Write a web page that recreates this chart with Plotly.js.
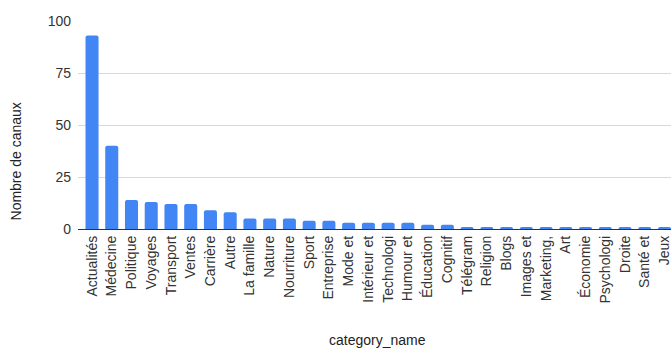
<!DOCTYPE html>
<html>
<head>
<meta charset="utf-8">
<script src="https://cdn.plot.ly/plotly-3.0.1.min.js"></script>
<style>
  html, body { margin: 0; padding: 0; background: #fff; }
  #chart { width: 671px; height: 349px; }
</style>
</head>
<body>
<div id="chart"></div>
<script>
// Channel counts per category
const categories = [
  "Actualités", "Médecine", "Politique", "Voyages", "Transport", "Ventes",
  "Carrière", "Autre", "La famille", "Nature", "Nourriture", "Sport",
  "Entreprise", "Mode et", "Intérieur et", "Technologi", "Humour et",
  "Éducation", "Cognitif", "Télégram", "Religion", "Blogs", "Images et",
  "Marketing,", "Art", "Économie", "Psychologi", "Droite", "Santé et", "Jeux"
];
const channelCounts = [
  93, 40, 14, 13, 12, 12,
  9, 8, 5, 5, 5, 4,
  4, 3, 3, 3, 3,
  2, 2, 1, 1, 1, 1,
  1, 1, 1, 1, 1, 1, 1
];
const yTickValues = [0, 25, 50, 75, 100];

const FONT = "Liberation Sans, Arial, sans-serif";

const trace = {
  type: "bar",
  x: categories.map((_, i) => i),
  y: channelCounts,
  marker: { color: "#4285f4", cornerradius: 2, line: { width: 0 } },
  hoverinfo: "x+y"
};

const layout = {
  width: 671,
  height: 349,
  margin: { l: 78, r: 0, t: 21, b: 120, pad: 0 },
  paper_bgcolor: "#ffffff",
  plot_bgcolor: "#ffffff",
  showlegend: false,
  bargap: 0.34,
  font: { family: FONT, size: 14, color: "#444" },
  xaxis: {
    range: [-0.71, 29.33],
    tickmode: "array",
    tickvals: categories.map((_, i) => i),
    ticktext: categories,
    tickangle: -90,
    ticks: "",
    ticklabelstandoff: 3,
    ticklabeloverflow: "allow",
    showgrid: false,
    zeroline: false,
    showline: false,
    tickfont: { family: FONT, size: 14, color: "#333" },
    fixedrange: true
  },
  yaxis: {
    range: [0, 100],
    tickmode: "array",
    tickvals: yTickValues,
    ticktext: yTickValues.map(String),
    ticks: "",
    ticklabelstandoff: 6,
    showgrid: true,
    gridcolor: "#d9d9d9",
    gridwidth: 1,
    zeroline: true,
    zerolinecolor: "#333",
    zerolinewidth: 1,
    showline: false,
    tickfont: { family: FONT, size: 14, color: "#333" },
    fixedrange: true
  },
  annotations: [
    {
      text: "Nombre de canaux",
      xref: "paper", yref: "paper",
      x: -0.1046, y: 0.3245,
      xanchor: "center", yanchor: "middle",
      textangle: -90,
      showarrow: false,
      font: { family: FONT, size: 14, color: "#222" }
    },
    {
      text: "category_name",
      xref: "paper", yref: "paper",
      x: 0.505, y: -0.534,
      xanchor: "center", yanchor: "middle",
      showarrow: false,
      font: { family: FONT, size: 14, color: "#222" }
    }
  ]
};

Plotly.newPlot("chart", [trace], layout, { displayModeBar: false, staticPlot: true });
</script>
</body>
</html>
